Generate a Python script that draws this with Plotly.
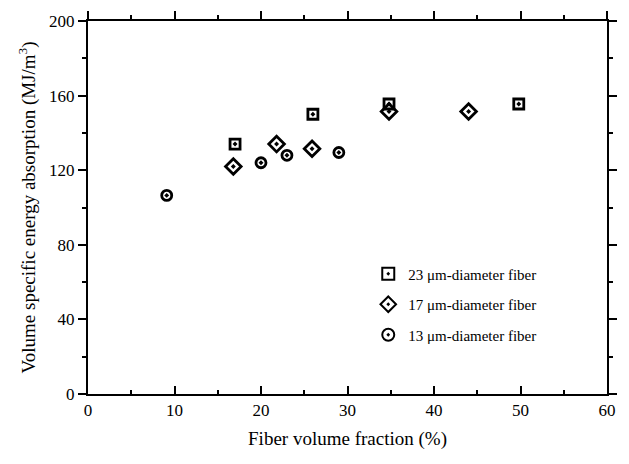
import plotly.graph_objects as go

# Data
x_23 = [17.0, 26.0, 34.8, 49.8]
y_23 = [134, 150, 155.5, 155.5]
x_17 = [16.8, 21.8, 25.9, 34.8, 44.0]
y_17 = [122, 134, 131.5, 151.5, 151.5]
x_13 = [9.1, 20.0, 23.0, 29.0]
y_13 = [106.5, 124, 128, 129.5]

names = ["23 \u03bcm-diameter fiber", "17 \u03bcm-diameter fiber", "13 \u03bcm-diameter fiber"]
symbols = ["square-open-dot", "diamond-open-dot", "circle-open-dot"]
sizes = [10, 12, 10]

FONT = "Liberation Serif"

fig = go.Figure()
for i, (xs, ys) in enumerate([(x_23, y_23), (x_17, y_17), (x_13, y_13)]):
    fig.add_trace(go.Scatter(
        x=xs, y=ys, mode="markers", name=names[i], legendgroup=f"g{i}",
        marker=dict(symbol=symbols[i], size=sizes[i], color="black",
                    line=dict(color="black", width=2.8)),
    ))

# invisible trace to activate top axis
fig.add_trace(go.Scatter(x=[0, 60], y=[0, 0], xaxis="x2", mode="markers",
                         marker=dict(opacity=0), showlegend=False, hoverinfo="skip"))

axis_common = dict(showgrid=False, zeroline=False, showline=True, linecolor="black",
                   linewidth=2, tickcolor="black", tickwidth=2,
                   tickfont=dict(family=FONT, size=17, color="black"))

fig.update_layout(
    width=629, height=464,
    margin=dict(l=88, r=13, t=20, b=70),
    plot_bgcolor="white", paper_bgcolor="white",
    font=dict(family=FONT, color="black"),
    xaxis=dict(range=[0, 60], dtick=10, ticks="inside", ticklen=8, mirror=True,
               minor=dict(dtick=5, ticks="inside", ticklen=4, tickcolor="black", tickwidth=2),
               title=dict(text="Fiber volume fraction (%)", font=dict(family=FONT, size=19), standoff=12),
               **axis_common),
    xaxis2=dict(range=[0, 60], dtick=10, overlaying="x", side="top", ticks="outside", ticklen=8,
                showticklabels=False, matches="x",
                minor=dict(dtick=5, ticks="outside", ticklen=4, tickcolor="black", tickwidth=2),
                **axis_common),
    yaxis=dict(range=[0, 200], dtick=40, ticks="outside", ticklen=8, mirror="ticks",
               minor=dict(dtick=20, ticks="outside", ticklen=4, tickcolor="black", tickwidth=2),
               title=dict(text="Volume specific energy absorption (MJ/m<sup>3</sup>)",
                          font=dict(family=FONT, size=19), standoff=8),
               **axis_common),
    legend=dict(x=0.54, y=0.366, xanchor="left", yanchor="top", bgcolor="rgba(0,0,0,0)",
                font=dict(family=FONT, size=15, color="black"), tracegroupgap=8,
                itemsizing="constant"),
)

fig.write_html("out.html")
